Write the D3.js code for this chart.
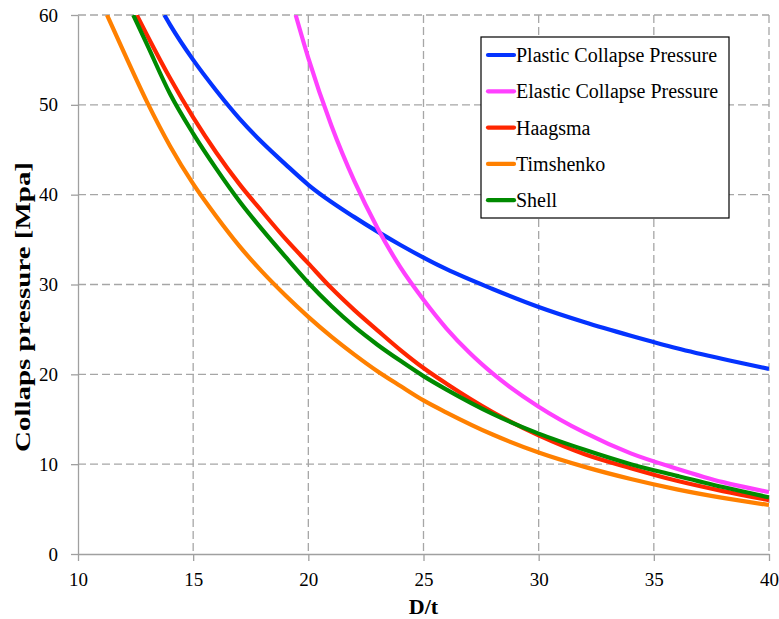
<!DOCTYPE html>
<html>
<head>
<meta charset="utf-8">
<script src="https://cdn.jsdelivr.net/npm/d3@7"></script>
<style>
  body { margin: 0; background: #fff; }
  svg { display: block; }
  text { font-family: "Liberation Serif", "Times New Roman", serif; fill: #000; }
</style>
</head>
<body>
<svg class="chart"></svg>
<script>
// values
var dtPlastic = [13.75, 14, 15, 16, 17, 18, 19, 20, 22, 24, 26, 28, 30, 32, 34, 36, 38, 40];
var plastic   = [60, 58.9, 55.0, 51.6, 48.5, 45.8, 43.4, 41.1, 37.5, 34.4, 31.7, 29.5, 27.5, 25.8, 24.3, 22.9, 21.7, 20.6];

var dtElastic = [19.45, 20, 21, 22, 23, 24, 25, 26, 27, 28, 30, 32, 34, 36, 38, 40];
var elastic   = [60, 55.2, 47.7, 41.5, 36.3, 31.9, 28.3, 25.1, 22.4, 20.1, 16.4, 13.5, 11.2, 9.5, 8.0, 6.9];

var dtHaagsma = [12.55, 13, 14, 15, 16, 17, 18, 19, 20, 21, 22, 23, 24, 25, 26, 28, 30, 32, 34, 36, 38, 40];
var haagsma   = [60, 57.75, 52.95, 48.6, 44.7, 41.2, 38.1, 35.1, 32.35, 29.6, 27.15, 24.9, 22.7, 20.7, 18.95, 15.8, 13.2, 11.1, 9.55, 8.15, 7.0, 6.0];

var dtTimoshenko = [11.26, 12, 13, 14, 15, 16, 17, 18, 19, 20, 21, 22, 23, 24, 25, 26, 28, 30, 32, 34, 36, 38, 40];
var timoshenko   = [60, 55.8, 50.3, 45.4, 41.2, 37.6, 34.3, 31.4, 28.8, 26.4, 24.2, 22.2, 20.35, 18.7, 17.1, 15.75, 13.3, 11.3, 9.7, 8.35, 7.2, 6.25, 5.45];

var dtShell = [12.4, 13, 14, 15, 16, 17, 18, 19, 20, 21, 22, 23, 24, 25, 26, 28, 30, 32, 34, 36, 38, 40];
var shell   = [60, 56.7, 51.2, 46.8, 42.9, 39.3, 36.1, 33.1, 30.2, 27.6, 25.3, 23.3, 21.5, 19.8, 18.3, 15.6, 13.4, 11.6, 10.0, 8.7, 7.45, 6.31];

var seriesNames  = ["Plastic Collapse Pressure", "Elastic Collapse Pressure", "Haagsma", "Timshenko", "Shell"];
var seriesColors = ["#0433ff", "#ff40ff", "#ff2600", "#ff8000", "#008a00"];
var xTicks = [10, 15, 20, 25, 30, 35, 40];
var yTicks = [0, 10, 20, 30, 40, 50, 60];

var series = [
  {x: dtPlastic, y: plastic},
  {x: dtElastic, y: elastic},
  {x: dtHaagsma, y: haagsma},
  {x: dtTimoshenko, y: timoshenko},
  {x: dtShell, y: shell}
].map(function(s, i) {
  return {
    name: seriesNames[i],
    color: seriesColors[i],
    points: s.x.map(function(v, j) { return [v, s.y[j]]; })
  };
});

var frameWidth = 779;
var frameHeight = 619;
var lmargin = 78;
var tmargin = 15;
var width = 691;
var height = 539;

var svg = d3.select(".chart")
  .attr("width", frameWidth)
  .attr("height", frameHeight);

var xScale = d3.scaleLinear().domain([10, 40]).range([0, width]);
var yScale = d3.scaleLinear().domain([0, 60]).range([height, 0]);

var plot = svg.append("g").attr("transform", "translate(" + lmargin + "," + tmargin + ")");

// dashed grid
plot.append("g").selectAll("line").data(yTicks.slice(1))
  .enter().append("line")
  .attr("x1", 0).attr("x2", width)
  .attr("y1", function(d) { return yScale(d); })
  .attr("y2", function(d) { return yScale(d); })
  .attr("stroke", "#a6a6a6").attr("stroke-width", 1.3)
  .attr("stroke-dasharray", "8,4");

plot.append("g").selectAll("line").data(xTicks.slice(1))
  .enter().append("line")
  .attr("y1", 0).attr("y2", height)
  .attr("x1", function(d) { return xScale(d); })
  .attr("x2", function(d) { return xScale(d); })
  .attr("stroke", "#a6a6a6").attr("stroke-width", 1.3)
  .attr("stroke-dasharray", "8,4");

// axes
var yAxis = plot.append("g")
  .call(d3.axisLeft(yScale).tickValues(yTicks).tickSize(7).tickPadding(13).tickSizeOuter(0));
var xAxis = plot.append("g")
  .attr("transform", "translate(0," + height + ")")
  .call(d3.axisBottom(xScale).tickValues(xTicks).tickSize(7).tickPadding(12).tickSizeOuter(0));

[xAxis, yAxis].forEach(function(a) {
  a.select(".domain").attr("stroke", "#a0a0a0").attr("stroke-width", 1.3);
  a.selectAll(".tick line").attr("stroke", "#a0a0a0").attr("stroke-width", 1.3);
  a.selectAll(".tick text")
    .style("font-family", "'Liberation Serif', 'Times New Roman', serif")
    .style("font-size", "19px")
    .attr("fill", "#000");
});

// curves
svg.append("defs").append("clipPath").attr("id", "clip")
  .append("rect").attr("x", 0).attr("y", 0).attr("width", width).attr("height", height);

var line = d3.line()
  .x(function(d) { return xScale(d[0]); })
  .y(function(d) { return yScale(d[1]); })
  .curve(d3.curveMonotoneX);

plot.append("g").attr("clip-path", "url(#clip)")
  .selectAll("path").data(series)
  .enter().append("path")
  .attr("d", function(d) { return line(d.points); })
  .attr("fill", "none")
  .attr("stroke", function(d) { return d.color; })
  .attr("stroke-width", 4.2);

// legend
var legend = svg.append("g").attr("transform", "translate(481,37)");
legend.append("rect")
  .attr("width", 248).attr("height", 181)
  .attr("fill", "#fff").attr("stroke", "#000").attr("stroke-width", 1.2);

var items = legend.selectAll(".item").data(series)
  .enter().append("g")
  .attr("transform", function(d, i) { return "translate(0," + (18 + i * 36.3) + ")"; });
items.append("line")
  .attr("x1", 7).attr("x2", 33)
  .attr("stroke", function(d) { return d.color; })
  .attr("stroke-width", 4.2)
  .attr("stroke-linecap", "round");
items.append("text")
  .attr("x", 35).attr("y", 7)
  .style("font-size", "20px")
  .text(function(d) { return d.name; });

// axis titles
svg.append("text")
  .attr("x", lmargin + width / 2)
  .attr("y", 614)
  .style("text-anchor", "middle")
  .style("font-weight", "bold")
  .style("font-size", "22px")
  .text("D/t");

svg.append("text")
  .attr("transform", "translate(30,307) rotate(-90)")
  .style("text-anchor", "middle")
  .style("font-weight", "bold")
  .style("font-size", "22px")
  .attr("textLength", 290)
  .attr("lengthAdjust", "spacingAndGlyphs")
  .text("Collaps pressure [Mpa]");
</script>
</body>
</html>
